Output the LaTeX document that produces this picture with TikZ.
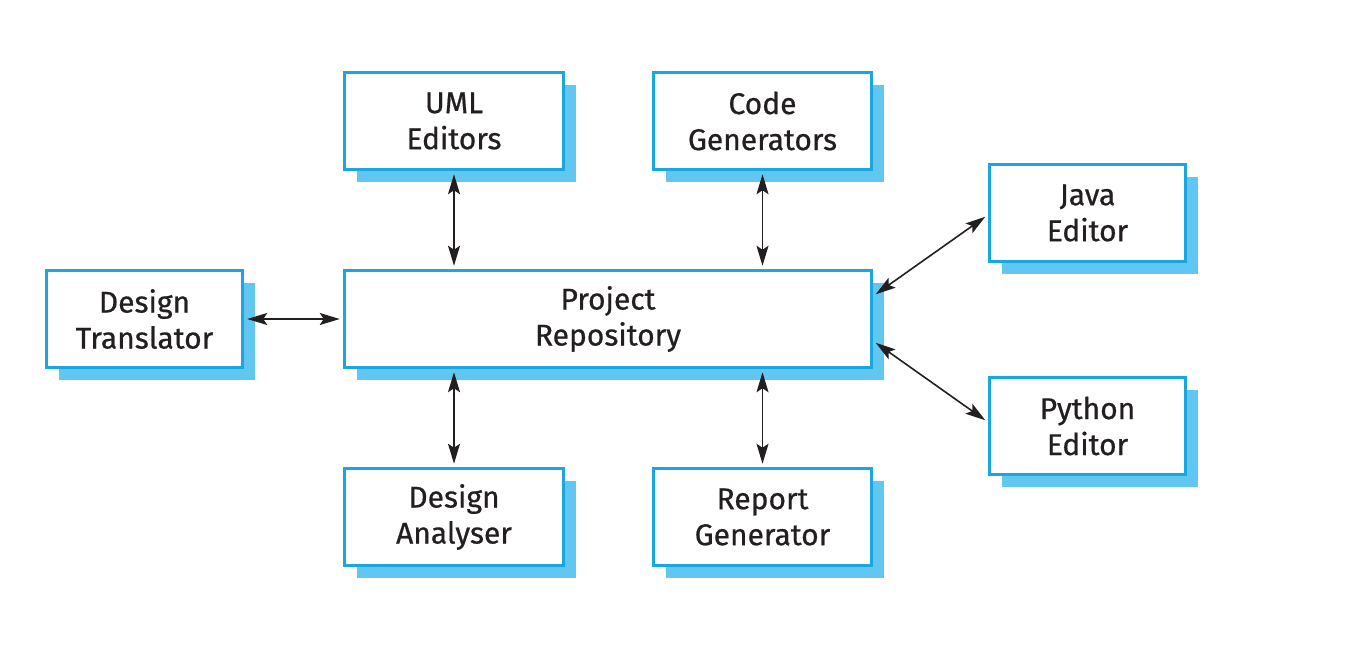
\documentclass[tikz,border=0pt]{standalone}
\usepackage{fontspec}
\setmainfont{Fira Sans}[FakeBold=0.6]
\newfontfamily\boxfont{Fira Sans}[FakeBold=0.6]
\usetikzlibrary{arrows.meta,shadows,calc}
\definecolor{boxblue}{HTML}{1AA7E1}
\definecolor{shadowblue}{HTML}{62C7F0}
\definecolor{txt}{HTML}{231F20}
\tikzset{
  box/.style={draw=boxblue, line width=3.5pt, fill=white, minimum height=97pt,
    align=center, text=txt, font=\boxfont\fontsize{30}{36}\selectfont, inner sep=0pt,
    drop shadow={shadow xshift=12pt, shadow yshift=-12pt, fill=shadowblue, opacity=1}},
  conn/.style={{Stealth[length=20pt,width=12pt,inset=4pt]}-{Stealth[length=20pt,width=12pt,inset=4pt]}, line width=1.6pt, txt, shorten >=3pt, shorten <=3pt}
}
\begin{document}
\begin{tikzpicture}[x=1pt,y=-1pt]
\useasboundingbox (0,0) rectangle (1358,665);
\node[box, minimum width=219pt] (uml) at (454,121) {UML\\Editors};
\node[box, minimum width=218pt] (code) at (762.5,121) {Code\\Generators};
\node[box, minimum width=196pt] (java) at (1087.5,213) {Java\\Editor};
\node[box, minimum width=196pt] (trans) at (144.5,319) {Design\\Translator};
\node[box, minimum width=527pt] (repo) at (608,319) {Project\\Repository};
\node[box, minimum width=196pt] (python) at (1087.5,426) {Python\\Editor};
\node[box, minimum width=219pt] (anal) at (454,517) {Design\\Analyser};
\node[box, minimum width=218pt] (report) at (762.5,517) {Report\\Generator};
\coordinate (rj) at ($(repo.east)+(0,-23)$);
\coordinate (rp) at ($(repo.east)+(0,22)$);
\coordinate (jw) at ($(java.west)+(0,2)$);
\coordinate (pw) at ($(python.west)+(0,-4)$);
\draw[conn] (uml.south) -- (uml.south |- repo.north);
\draw[conn] (code.south) -- (code.south |- repo.north);
\draw[conn] (anal.north) -- (anal.north |- repo.south);
\draw[conn] (report.north) -- (report.north |- repo.south);
\draw[conn] (trans.east) -- (repo.west);
\draw[conn] (rj) -- (jw);
\draw[conn] (rp) -- (pw);
\end{tikzpicture}
\end{document}
